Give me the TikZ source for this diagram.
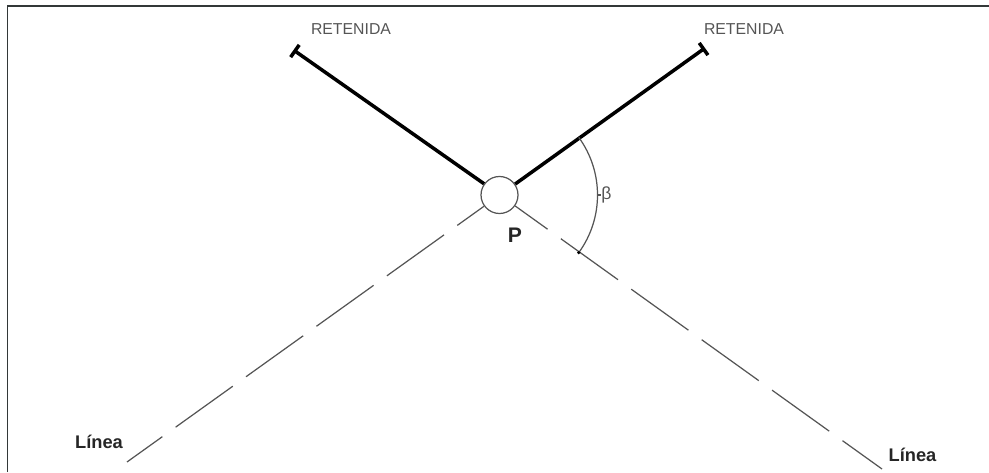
\documentclass[tikz,border=0pt]{standalone}
\usepackage{fontspec}
\setmainfont{Liberation Sans}
\usepackage{tikz}
\usetikzlibrary{arrows.meta}
\definecolor{framegray}{HTML}{333838}
\definecolor{linegray}{HTML}{555555}
\tikzset{
  guy/.style={line width=2pt,black,-{Bar[width=8.5pt,length=1.5pt]}},
  linea/.style={line width=0.7pt,linegray,dash pattern=on 40pt off 9.3pt},
  retlabel/.style={text=linegray,font=\fontsize{9}{9}\selectfont,inner sep=0pt},
  linlabel/.style={text=black!85,font=\fontsize{10.4}{10.4}\selectfont\bfseries,inner sep=0pt},
}

\begin{document}
\begin{tikzpicture}
\useasboundingbox (0,0) rectangle (19.78,9.44);
\draw [framegray,line width=0.85pt] (0.15,0) -- (0.15,9.32) -- (19.78,9.32);

\node [circle,draw=linegray,line width=0.7pt,minimum size=0.74cm,inner sep=0pt] (P) at (9.99,5.54) {};
\node [linlabel,font=\fontsize{12}{12}\selectfont\bfseries] (Plabel) at (10.30,4.74) {P};

\coordinate (retleft) at (5.87,8.44);
\coordinate (retright) at (14.10,8.48);
\coordinate (linleft) at (2.54,0.20);
\coordinate (linright) at (17.64,0.06);

\draw [guy] (P.144.4) -- (retleft);
\draw [guy] (P.35.6) -- (retright);
\draw [linea,dash phase=21.3pt] (P.-144.4) -- (linleft);
\draw [linea,dash phase=17.3pt] (P.-35.6) -- (linright);

\node [retlabel] (ret1) at (7.02,8.86) {RETENIDA};
\node [retlabel] (ret2) at (14.88,8.86) {RETENIDA};
\node [linlabel] (lin1) at (1.98,0.60) {Línea};
\node [linlabel] (lin2) at (18.25,0.34) {Línea};

% angle
\draw [linegray,line width=0.7pt] ([shift={(-36:1.96)}]P.center) arc [start angle=-36,end angle=36,radius=1.96];
\coordinate (arcmid) at ([shift={(0:1.96)}]P.center);
\node [text=linegray,font=\fontsize{10}{10}\selectfont,inner sep=0pt,anchor=west] (beta) at (12.02,5.54) {β};
\draw [linegray,line width=0.7pt] (arcmid) -- (beta.west);
\fill [black] ([shift={(-36:1.96)}]P.center) circle (0.035);
\end{tikzpicture}
\end{document}
